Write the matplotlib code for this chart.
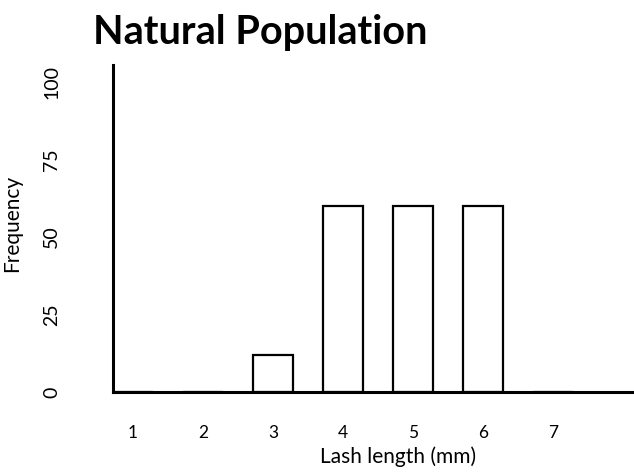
import matplotlib.pyplot as plt

plt.rcParams['font.family'] = ['Lato', 'DejaVu Sans']

# 数据
lash_length = [1, 2, 3, 4, 5, 6, 7]
frequency = [0, 0, 12, 60, 60, 60, 0]
y_ticks = [0, 25, 50, 75, 100]

fig = plt.figure(figsize=(6.34, 4.72), dpi=100)
ax = fig.add_axes([0.178, 0.1695, 0.819, 0.6925])

ax.bar(lash_length, frequency, width=0.57, facecolor='white',
       edgecolor='black', linewidth=1.6, zorder=2)

ax.set_xlim(0.714, 8.13)
ax.set_ylim(0, 105.5)
ax.set_xticks(lash_length)
ax.set_yticks(y_ticks)

for side in ['top', 'right']:
    ax.spines[side].set_visible(False)
for side in ['left', 'bottom']:
    ax.spines[side].set_linewidth(2.2)
    ax.spines[side].set_zorder(3)

ax.tick_params(axis='x', length=0, pad=24, labelsize=12.5)
ax.tick_params(axis='y', length=0, pad=38, labelsize=14, labelrotation=90)
for lbl in ax.get_yticklabels():
    lbl.set_va('center')

ax.set_xlabel('Lash length (mm)', fontsize=15)
ax.xaxis.set_label_coords(0.549, -0.165)
ax.set_ylabel('Frequency', fontsize=15)
ax.yaxis.set_label_coords(-0.175, 0.515)

fig.text(93 / 634, 1 - 14 / 472, 'Natural Population', fontsize=28.5,
         fontweight='bold', ha='left', va='top')

plt.savefig('out.png', dpi=100)
plt.close()
